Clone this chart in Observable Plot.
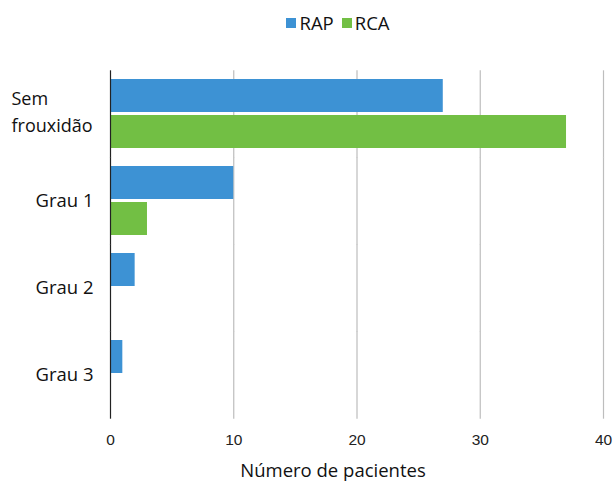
<!DOCTYPE html>
<html><head><meta charset="utf-8">
<script src="https://cdn.jsdelivr.net/npm/d3@7"></script>
<script src="https://cdn.jsdelivr.net/npm/@observablehq/plot@0.6"></script>
<style>
body{margin:0;background:#fff;font-family:"Open Sans",sans-serif;color:#111;overflow:hidden;}
#legend{height:40px;display:flex;justify-content:center;align-items:center;padding-left:62px;box-sizing:border-box;font-size:18.5px;padding-top:5px;}
#legend .item{display:flex;align-items:center;margin:0 4px;}
#legend .sw{width:10px;height:10px;margin-right:3px;}
#chart{height:414px;}
#chart svg{display:block;}
#title{height:25px;line-height:25px;margin-top:3px;text-align:center;font-size:18.5px;padding-left:52px;box-sizing:border-box;width:614px;}
</style></head><body>
<div id="legend"></div>
<div id="chart"></div>
<div id="title"></div>
<script>
const categories = ["Sem frouxidão", "Grau 1", "Grau 2", "Grau 3"];
const series = ["RAP", "RCA"];
const rapValues = [27, 10, 2, 1];
const rcaValues = [37, 3, 0, 0];
const xTicks = [0, 10, 20, 30, 40];
const colors = ["#3d92d4", "#72bf44"];
const axisTitle = "Número de pacientes";

const data = categories.flatMap((c, i) => [
  {cat: c, series: "RAP", value: rapValues[i]},
  {cat: c, series: "RCA", value: rcaValues[i]}
]);

const legend = d3.select("#legend");
series.forEach((s, i) => {
  const it = legend.append("div").attr("class", "item");
  it.append("div").attr("class", "sw").style("background", colors[i]);
  it.append("span").text(s);
});
d3.select("#title").text(axisTitle);

const fyPadInner = 0.2, fyPadOuter = 0.1;
const frameH = 348;
const step = frameH / (categories.length - fyPadInner + 2 * fyPadOuter);
const ext = -step * fyPadOuter;

const chart = Plot.plot({
  width: 614,
  height: 414,
  marginTop: 30,
  marginBottom: 36,
  marginLeft: 110,
  marginRight: 11,
  style: {fontFamily: "Open Sans", background: "#fff"},
  x: {domain: [0, 40], ticks: xTicks},
  fy: {domain: categories, paddingInner: fyPadInner, paddingOuter: fyPadOuter, axis: null},
  y: {domain: series, paddingInner: 0.08, paddingOuter: 0, axis: null},
  color: {domain: series, range: colors},
  marks: [
    Plot.ruleX(categories.flatMap(c => xTicks.slice(1).map(t => ({c, t}))), {x: "t", fy: "c", stroke: "#bdbdbd", strokeWidth: 1.2, insetTop: ext, insetBottom: ext}),
    Plot.barX(data, {fy: "cat", y: "series", x: "value", fill: "series"}),
    Plot.ruleX(categories.map(c => ({c, t: 0})), {x: "t", fy: "c", stroke: "#222", strokeWidth: 1.2, insetTop: ext, insetBottom: ext}),
    Plot.axisX({anchor: "bottom", ticks: xTicks, tickSize: 0, tickPadding: 23, fontSize: 15.5, fontFamily: "Liberation Sans", label: null, fill: "#222"}),
    Plot.text(categories.slice(1), {fy: d => d, text: d => d, frameAnchor: "left", textAnchor: "end", dx: -17, fontSize: 18.5, fill: "#111"}),
    Plot.text(categories.slice(0, 1), {fy: d => d, text: d => d.replace(" ", "\n"), frameAnchor: "left", textAnchor: "start", dx: -99, dy: -5, lineHeight: 1.5, fontSize: 18, fill: "#111"})
  ]
});
document.getElementById("chart").appendChild(chart);
</script>
</body></html>
